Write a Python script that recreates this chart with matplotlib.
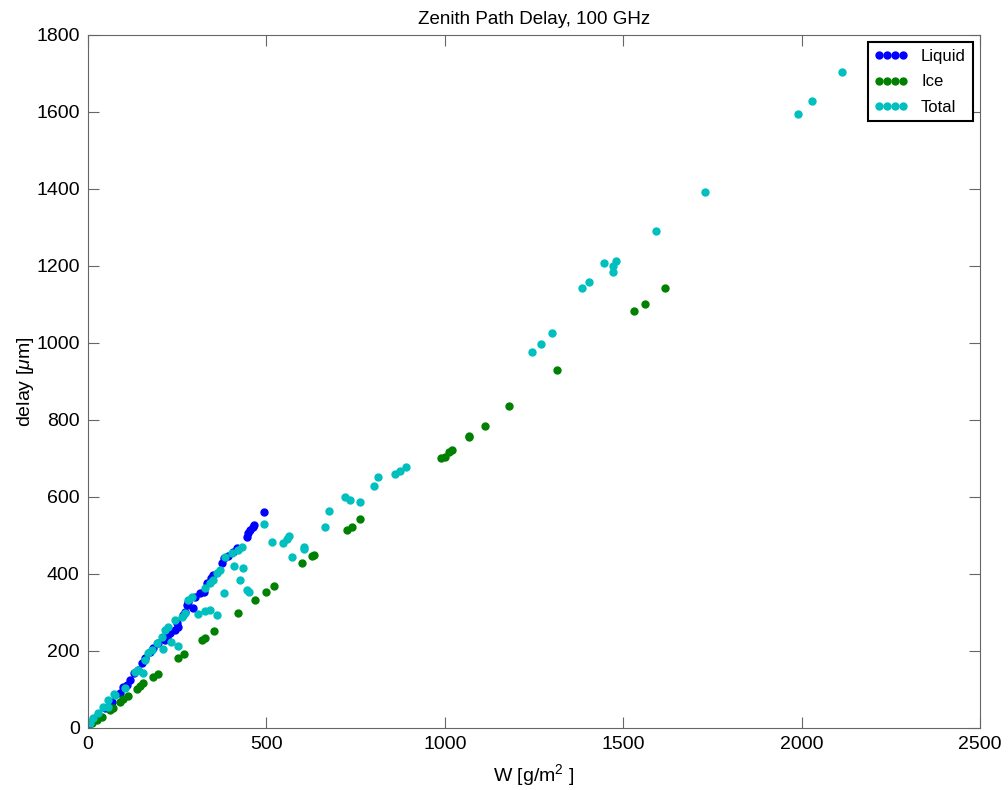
import matplotlib
matplotlib.use('Agg')
import matplotlib.pyplot as plt
import numpy as np

plt.rcParams.update({
    'font.family': ['Liberation Sans', 'DejaVu Sans'],
    'mathtext.fontset': 'custom',
    'mathtext.rm': 'Liberation Sans',
    'mathtext.it': 'Liberation Sans:italic',
    'xtick.direction': 'in',
    'ytick.direction': 'in',
    'xtick.top': True,
    'ytick.right': True,
    'xtick.major.size': 8,
    'ytick.major.size': 8,
    'xtick.labelsize': 14,
    'ytick.labelsize': 14,
    'axes.labelsize': 14,
})

# W [g/m^2] vs. delay [um]
liq_W = [494, 465, 462, 454, 449, 445, 417, 407, 393, 382, 376, 351, 345, 333,
         326, 314, 300, 281, 277, 295, 272, 267, 249, 253, 244, 230, 220, 216,
         195, 183, 174, 160, 150, 141, 130, 118, 108, 99, 90, 66, 48, 29, 15, 1]
liq_d = [562, 527, 523, 513, 506, 497, 467, 458, 447, 441, 428, 397, 389, 376,
         354, 350, 341, 328, 319, 311, 302, 294, 272, 263, 255, 246, 237, 229,
         220, 207, 198, 181, 168, 151, 142, 125, 112, 107, 90, 68, 51, 34, 21, 8]

ice_W = [1617, 1562, 1530, 1313, 1181, 1112, 1069, 1067, 1020, 1013, 1000, 989,
         763, 739, 725, 632, 629, 601, 521, 499, 467, 419, 353, 328, 319, 269,
         253, 195, 183, 155, 146, 136, 113, 99, 90, 71, 62, 38, 24, 10]
ice_d = [1144, 1102, 1082, 929, 837, 784, 758, 755, 721, 717, 705, 700,
         543, 523, 514, 450, 447, 428, 370, 354, 332, 298, 253, 233, 229, 191,
         181, 140, 132, 118, 110, 100, 83, 74, 68, 51, 47, 29, 21, 12]

tot_W = [2112, 2029, 1989, 1729, 1592, 1480, 1472, 1470, 1446, 1404, 1385, 1299,
         1270, 1243, 891, 874, 861, 814, 802, 763, 734, 721, 674, 663, 606, 604,
         573, 562, 557, 547, 515, 492, 435, 410, 426, 446, 451, 380, 362, 342,
         328, 309, 253, 233, 211, 155, 74, 57,
         431, 421, 403, 384, 370, 361, 351, 342, 328, 291, 281, 272, 263, 244,
         225, 216, 206, 192, 178, 169, 160, 141, 132, 104, 76, 57, 43, 29, 15, 6]
tot_d = [1703, 1629, 1596, 1391, 1292, 1213, 1201, 1185, 1207, 1159, 1144, 1025,
         998, 976, 677, 668, 659, 651, 629, 588, 592, 601, 564, 521, 469, 464,
         445, 499, 490, 481, 483, 529, 415, 421, 384, 358, 354, 351, 293, 306,
         305, 295, 213, 224, 204, 142, 88, 55,
         471, 462, 454, 445, 410, 402, 384, 376, 363, 341, 332, 298, 289, 281,
         263, 255, 237, 220, 203, 194, 177, 151, 146, 103, 86, 73, 55, 38, 25, 12]

fig = plt.figure(figsize=(10.08, 7.9), dpi=100)
ax = fig.add_axes([0.0873, 0.0785, 0.885, 0.8772])

ms = 5
ax.plot(liq_W, liq_d, 'o', color='b', mec='b', ms=ms, label='Liquid')
ax.plot(ice_W, ice_d, 'o', color='g', mec='g', ms=ms, label='Ice')
ax.plot(tot_W, tot_d, 'o', color='c', mec='c', ms=ms, label='Total')

ax.set_xlim(0, 2500)
ax.set_ylim(0, 1800)
ax.set_xticks(np.arange(0, 2501, 500))
ax.set_yticks(np.arange(0, 1801, 200))
for s in ax.spines.values():
    s.set_color('0.4')
ax.tick_params(colors='0.4', labelcolor='black', pad=6)

ax.set_title('Zenith Path Delay, 100 GHz', fontsize=13.5, pad=8)
ax.set_xlabel('W [g/m$^2$ ]', labelpad=6)
ax.set_ylabel(r'delay [$\mu$m]', labelpad=0)

leg = ax.legend(loc='upper right', numpoints=4, fontsize=12, fancybox=False,
                framealpha=1, handlelength=2.0, borderaxespad=0.45,
                labelspacing=0.62, borderpad=0.4)
leg.get_frame().set_edgecolor('black')
leg.get_frame().set_linewidth(1.5)

fig.savefig('out.png', dpi=100)
